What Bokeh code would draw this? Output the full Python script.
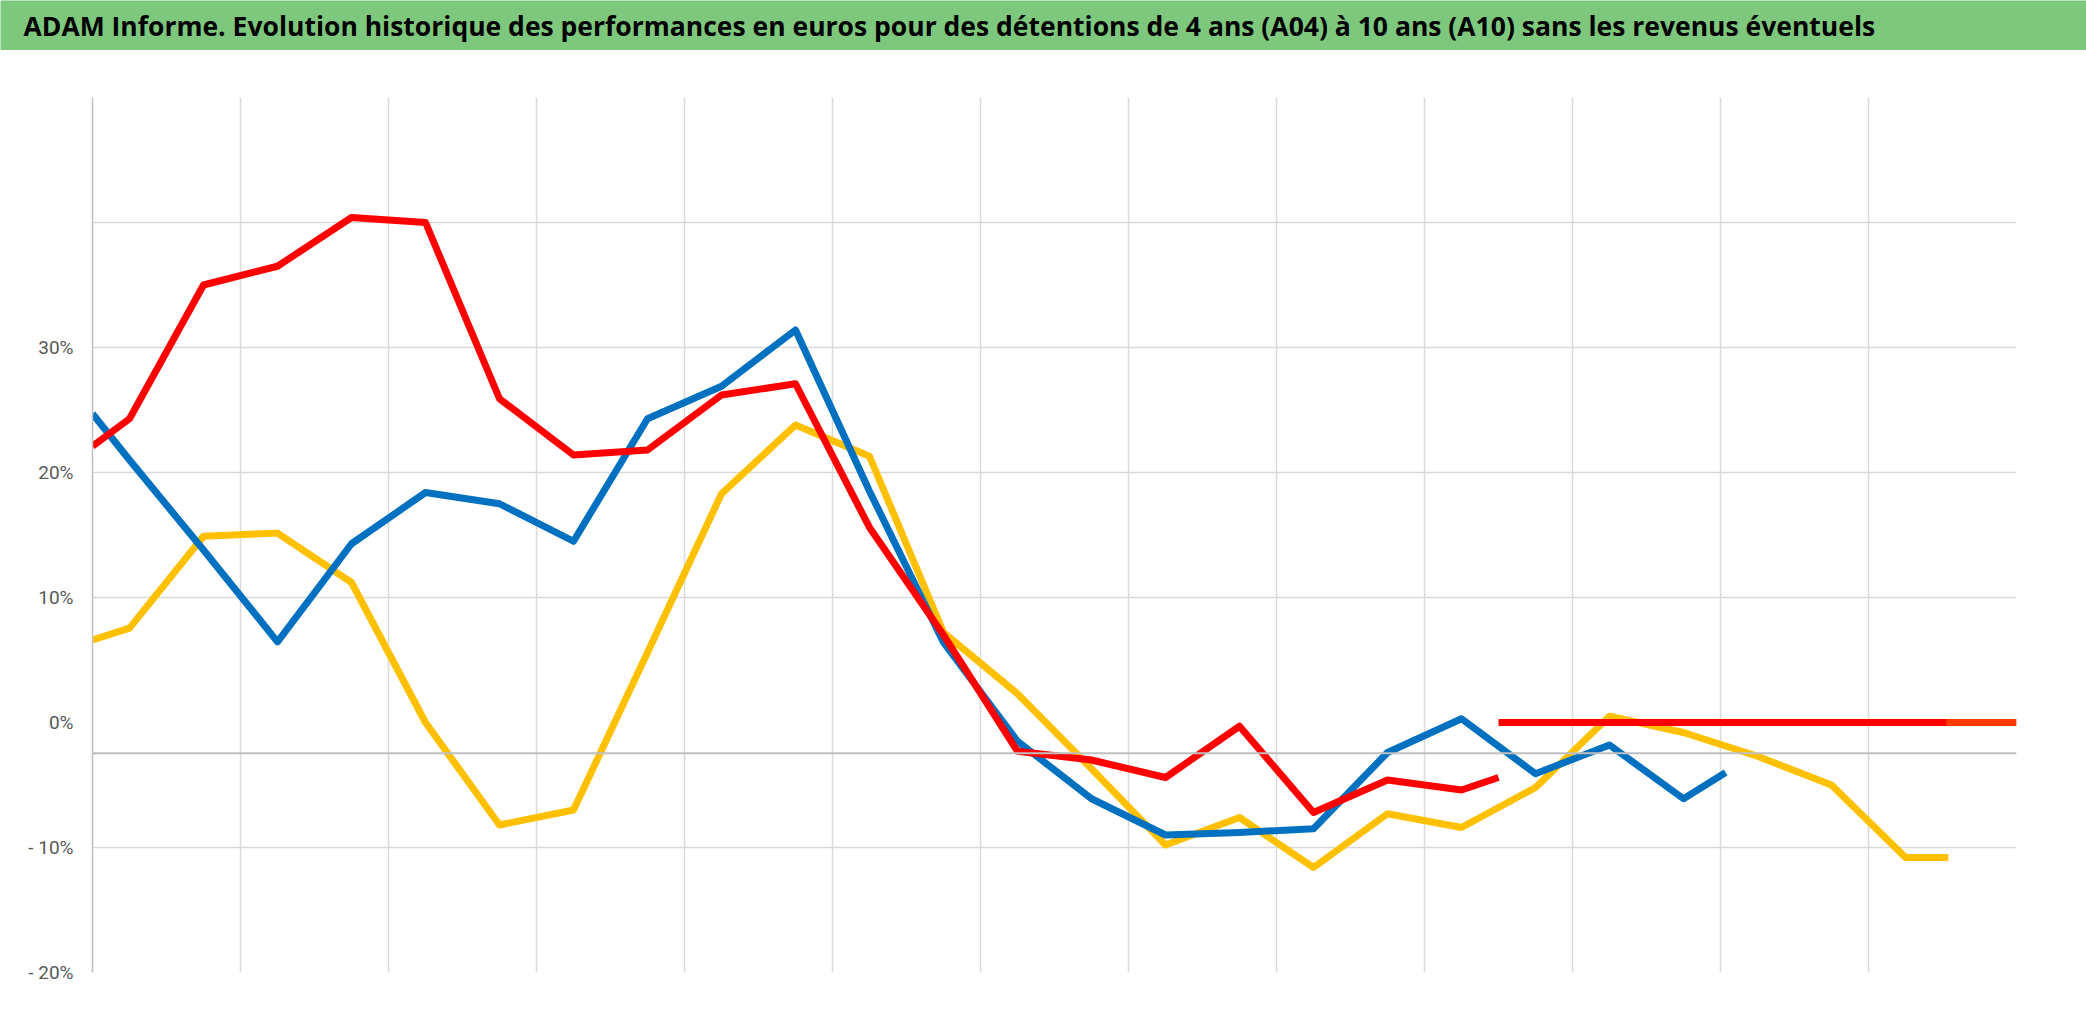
from bokeh.plotting import figure
from bokeh.models import Range1d, FixedTicker, Span
from bokeh.layouts import column, row
from bokeh.embed import file_html
from bokeh.resources import INLINE
from bokeh.core.properties import value

# ---------------- data ----------------
title_text = ("ADAM Informe. Evolution historique des performances en euros pour des "
              "détentions de 4 ans (A04) à 10 ans (A10) sans les revenus éventuels")

y_ticks = [-20, -10, 0, 10, 20, 30, 40, 50]
y_tick_labels = ["- 20%", "- 10%", "0%", "10%", "20%", "30%", "", ""]
y_grid_values = [-20, -10, 10, 20, 30, 40, 50]
x_grid_values = [2, 4, 6, 8, 10, 12, 14, 16, 18, 20, 22, 24]
axis_cross = -2.45

red_x = [0, 0.5, 1.5, 2.5, 3.5, 4.5, 5.5, 6.5, 7.5, 8.5, 9.5, 10.5, 11.5, 12.5,
         13.5, 14.5, 15.5, 16.5, 17.5, 18.5, 19.0]
red_y = [22.1, 24.3, 35.0, 36.5, 40.4, 40.0, 25.9, 21.4, 21.8, 26.2, 27.1, 15.6,
         7.0, -2.3, -3.0, -4.4, -0.3, -7.2, -4.6, -5.4, -4.4]

red_zero_x = [19.0, 26.0]
red_zero_y = [0.0, 0.0]

blue_x = [0, 0.5, 1.5, 2.5, 3.5, 4.5, 5.5, 6.5, 7.5, 8.5, 9.5, 10.5, 11.5, 12.5,
          13.5, 14.5, 15.5, 16.5, 17.5, 18.5, 19.5, 20.5, 21.5, 22.07]
blue_y = [24.7, 21.0, 13.8, 6.45, 14.3, 18.4, 17.5, 14.5, 24.3, 26.9, 31.4, 18.5,
          6.4, -1.5, -6.1, -9.0, -8.8, -8.5, -2.4, 0.3, -4.1, -1.8, -6.1, -4.0]

yellow_x = [0, 0.5, 1.5, 2.5, 3.5, 4.5, 5.5, 6.5, 7.5, 8.5, 9.5, 10.5, 11.5, 12.5,
            13.5, 14.5, 15.5, 16.5, 17.5, 18.5, 19.5, 20.5, 21.5, 22.5, 23.5, 24.5, 25.08]
yellow_y = [6.6, 7.55, 14.9, 15.15, 11.2, 0.0, -8.2, -7.0, 5.6, 18.3, 23.8, 21.3,
            7.2, 2.3, -3.7, -9.8, -7.6, -11.6, -7.3, -8.4, -5.2, 0.5, -0.8, -2.7,
            -5.0, -10.8, -10.8]

yellow_tail_x = [25.05, 26.0]
yellow_tail_y = [0.0, 0.0]

RED = "#ff0000"
BLUE = "#0070c0"
YELLOW = "#ffc000"
GREEN = "#7ec87e"

W = 2086
TITLE_H = 50
MAIN_H = 1031 - TITLE_H

# ---------------- title bar ----------------
t = figure(width=W, height=TITLE_H, x_range=Range1d(0, W), y_range=Range1d(0, TITLE_H),
           min_border=0, toolbar_location=None, output_backend="svg",
           x_axis_location=None, y_axis_location=None,
           background_fill_color=GREEN, border_fill_color=GREEN,
           outline_line_color=None)
t.grid.visible = False
t.text(x=[23], y=[25], text=[title_text], text_font=value("Open Sans"),
       text_font_style="bold", text_font_size="26.5px", text_color="#000000",
       text_baseline="middle", text_align="left")

# ---------------- main chart ----------------
p = figure(width=W, height=MAIN_H, x_range=Range1d(0, 26), y_range=Range1d(-20, 50),
           min_border_left=92, min_border_right=70, min_border_top=47,
           min_border_bottom=59, toolbar_location=None, output_backend="svg",
           background_fill_color="white", border_fill_color="white",
           outline_line_color=None)

p.xaxis.visible = False
p.xgrid.ticker = FixedTicker(ticks=x_grid_values)
p.xgrid.grid_line_color = "#d9d9d9"
p.xgrid.grid_line_width = 1.5

p.yaxis.ticker = FixedTicker(ticks=y_ticks)
p.yaxis.major_label_overrides = {v: s for v, s in zip(y_ticks, y_tick_labels)}
p.yaxis.major_tick_in = 0
p.yaxis.major_tick_out = 0
p.yaxis.minor_tick_in = 0
p.yaxis.minor_tick_out = 0
p.yaxis.major_label_standoff = 19
p.yaxis.axis_line_color = "#bfbfbf"
p.yaxis.axis_line_width = 1.5
p.yaxis.major_label_text_font = "Roboto"
p.yaxis.major_label_text_font_size = "19px"
p.yaxis.major_label_text_color = "#595959"

p.ygrid.ticker = FixedTicker(ticks=y_grid_values)
p.ygrid.grid_line_color = "#d9d9d9"
p.ygrid.grid_line_width = 1.5

p.add_layout(Span(location=axis_cross, dimension="width",
                  line_color="#bfbfbf", line_width=2))

p.line(yellow_x, yellow_y, line_color=YELLOW, line_width=7, line_join="round")
p.line(blue_x, blue_y, line_color=BLUE, line_width=7, line_join="round")
p.line(red_x, red_y, line_color=RED, line_width=7, line_join="round")
p.line(red_zero_x, red_zero_y, line_color=RED, line_width=7)
p.line(yellow_tail_x, yellow_tail_y, line_color=YELLOW, line_width=7, line_alpha=0.3)

layout = column(row(t), p, spacing=0)
open("out.html", "w").write(file_html(layout, INLINE))
